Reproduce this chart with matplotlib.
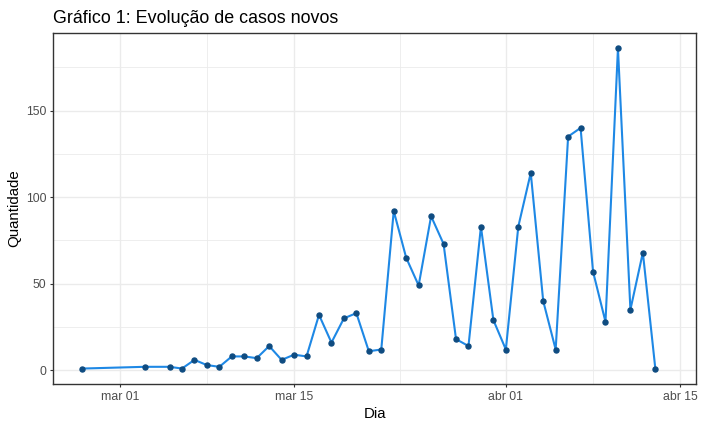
import numpy as np
import matplotlib
matplotlib.use('Agg')
import matplotlib.pyplot as plt
from datetime import datetime, timedelta

plt.rcParams['font.family'] = ['Liberation Sans', 'DejaVu Sans']

# Dados: casos novos por dia
dias = ['2020-02-27', '2020-03-03', '2020-03-05', '2020-03-06', '2020-03-07',
        '2020-03-08', '2020-03-09', '2020-03-10', '2020-03-11', '2020-03-12',
        '2020-03-13', '2020-03-14', '2020-03-15', '2020-03-16', '2020-03-17',
        '2020-03-18', '2020-03-19', '2020-03-20', '2020-03-21', '2020-03-22',
        '2020-03-23', '2020-03-24', '2020-03-25', '2020-03-26', '2020-03-27',
        '2020-03-28', '2020-03-29', '2020-03-30', '2020-03-31', '2020-04-01',
        '2020-04-02', '2020-04-03', '2020-04-04', '2020-04-05', '2020-04-06',
        '2020-04-07', '2020-04-08', '2020-04-09', '2020-04-10', '2020-04-11',
        '2020-04-12', '2020-04-13']
casos = [1, 2, 2, 1, 6,
         3, 2, 8, 8, 7,
         14, 6, 9, 8, 32,
         16, 30, 33, 11, 12,
         92, 65, 49, 89, 73,
         18, 14, 83, 29, 12,
         83, 114, 40, 12, 135,
         140, 57, 28, 186, 35,
         68, 1]
ticks_x = ['2020-03-01', '2020-03-15', '2020-04-01', '2020-04-15']
rotulos_x = ['mar 01', 'mar 15', 'abr 01', 'abr 15']

datas = [datetime.strptime(d, '%Y-%m-%d') for d in dias]

fig = plt.figure(figsize=(7.04, 4.29), dpi=100)
ax = fig.add_axes([53.3 / 704, 1 - 384.3 / 429, (696.3 - 53.3) / 704, (384.3 - 32.7) / 429])

ax.plot(datas, casos, color='#1E88E5', lw=1.5, zorder=3)
ax.plot(datas, casos, 'o', color='#0F4C81', ms=3.6, zorder=4)

ax.set_xlim(datas[0] - timedelta(days=2.33), datas[-1] + timedelta(days=3.29))
ax.set_ylim(-8.1, 195)

ax.set_xticks([datetime.strptime(d, '%Y-%m-%d') for d in ticks_x])
ax.set_xticklabels(rotulos_x)
# grades menores no meio das quebras, como no ggplot
meio = [datetime(2020, 3, 8), datetime(2020, 3, 23, 12), datetime(2020, 4, 8)]
ax.set_xticks(meio, minor=True)
ax.set_yticks([0, 50, 100, 150])
ax.set_yticks([25, 75, 125, 175], minor=True)

ax.grid(which='major', color='#EBEBEB', lw=1.0, zorder=0)
ax.grid(which='minor', color='#EBEBEB', lw=0.6, zorder=0)
ax.tick_params(which='major', length=2.5, width=0.8, color='#333333',
               labelsize=8.8, labelcolor='#4D4D4D', pad=2.5)
ax.tick_params(which='minor', length=0)
for s in ax.spines.values():
    s.set_color('#333333')
    s.set_linewidth(1.0)

ax.set_xlabel('Dia', fontsize=10.8, labelpad=3)
ax.set_ylabel('Quantidade', fontsize=10.8, labelpad=3)
ax.set_title('Gráfico 1: Evolução de casos novos', fontsize=12.9, loc='left', pad=7)

fig.savefig('out.png', dpi=100)
